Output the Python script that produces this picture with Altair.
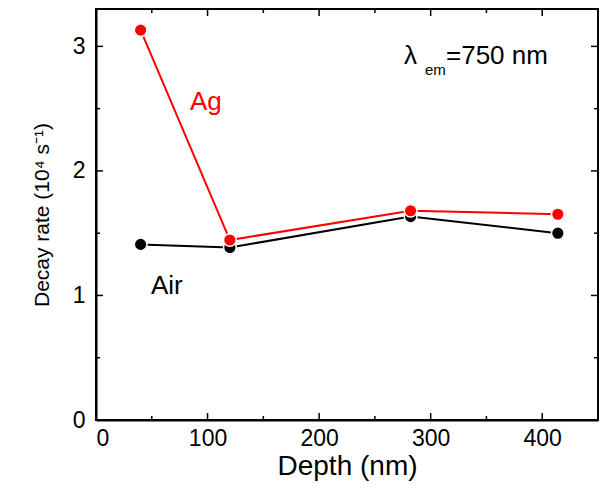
import altair as alt
import pandas as pd

# Data
depth = [40, 120, 282, 414]
ag_rate = [3.13, 1.445, 1.68, 1.652]
air_rate = [1.41, 1.385, 1.633, 1.50]

x_major = [0, 100, 200, 300, 400]
x_minor = [50, 150, 250, 350]
y_major = [0, 1, 2, 3]
y_minor = [0.5, 1.5, 2.5]

X_MAX, Y_MAX = 450, 3.3
W, H = 502, 411
FONT = "Liberation Sans"

df = pd.DataFrame(
    {"depth": depth * 2,
     "rate": air_rate + ag_rate,
     "series": ["Air"] * 4 + ["Ag"] * 4}
)
air = df[df.series == "Air"]
ag = df[df.series == "Ag"]

xs = alt.Scale(domain=[0, X_MAX], nice=False, zero=False)
ys = alt.Scale(domain=[0, Y_MAX], nice=False, zero=False)

xaxis = alt.Axis(values=x_major, format="d", ticks=False, domain=True,
                 domainColor="black", domainWidth=2, grid=False,
                 labelFontSize=23, labelPadding=7, labelFont=FONT,
                 title="Depth (nm)", titleFontSize=28, titleFont=FONT,
                 titleFontWeight="normal", titlePadding=2, labelColor="black",
                 titleColor="black")
yaxis = alt.Axis(values=y_major, format="d", ticks=False, domain=True,
                 domainColor="black", domainWidth=2, grid=False,
                 labelFontSize=23, labelPadding=11, labelFont=FONT,
                 title="Decay rate (10⁴ s⁻¹)", titleFontSize=21, titleFont=FONT,
                 titleFontWeight="normal", titlePadding=20, labelColor="black",
                 titleColor="black")

base_x = alt.X("depth:Q", scale=xs, axis=xaxis)
base_y = alt.Y("rate:Q", scale=ys, axis=yaxis)


def series_layers(d, color):
    line = alt.Chart(d).mark_line(color=color, strokeWidth=2).encode(
        x=base_x, y=base_y)
    pts = alt.Chart(d).mark_point(filled=True, size=160, opacity=1,
                                  fill=color, stroke="white",
                                  strokeWidth=1.5).encode(x=base_x, y=base_y)
    return [line, pts]


def xticks(vals, y1, y2, width=1.5):
    d = pd.DataFrame({"depth": vals})
    return alt.Chart(d).mark_rule(color="black", strokeWidth=width).encode(
        x=alt.X("depth:Q", scale=xs), y=alt.value(y1), y2=alt.value(y2))


def yticks(vals, x1, x2, width=1.5):
    d = pd.DataFrame({"rate": vals})
    return alt.Chart(d).mark_rule(color="black", strokeWidth=width).encode(
        y=alt.Y("rate:Q", scale=ys), x=alt.value(x1), x2=alt.value(x2))


def label(text, x, y, size, color="black"):
    return alt.Chart(pd.DataFrame({"t": [text]})).mark_text(
        font=FONT, fontSize=size, color=color, align="left",
        baseline="alphabetic").encode(text="t:N", x=alt.value(x), y=alt.value(y))


layers = []
layers += series_layers(air, "black")
layers += series_layers(ag, "#ff0000")
# major / minor ticks on all four sides (pointing inward)
layers += [xticks(x_major, H, H - 7), xticks(x_major, 0, 7),
           xticks(x_minor, H, H - 4), xticks(x_minor, 0, 4)]
layers += [yticks(y_major, 0, 7), yticks(y_major, W, W - 7),
           yticks(y_minor, 0, 4), yticks(y_minor, W, W - 4)]
# frame edges drawn like the ticks
layers += [xticks([0, X_MAX], -1, H + 1, 2), yticks([0, Y_MAX], -1, W + 1, 2)]
layers += [
    label("Ag", 94, 101, 26, "#ff0000"),
    label("Air", 55, 285, 26),
    label("λ", 308, 55, 26),
    label("em", 329, 66, 15),
    label("=750 nm", 350, 55, 26),
]

chart = alt.layer(*layers).properties(
    width=W, height=H,
    background="white",
    autosize=alt.AutoSizeParams(type="none"),
    padding={"left": 88, "top": 1, "right": 1, "bottom": 64},
).configure_view(stroke="black", strokeWidth=2)

chart.save("out.html", embed_options={"renderer": "svg", "actions": False})
